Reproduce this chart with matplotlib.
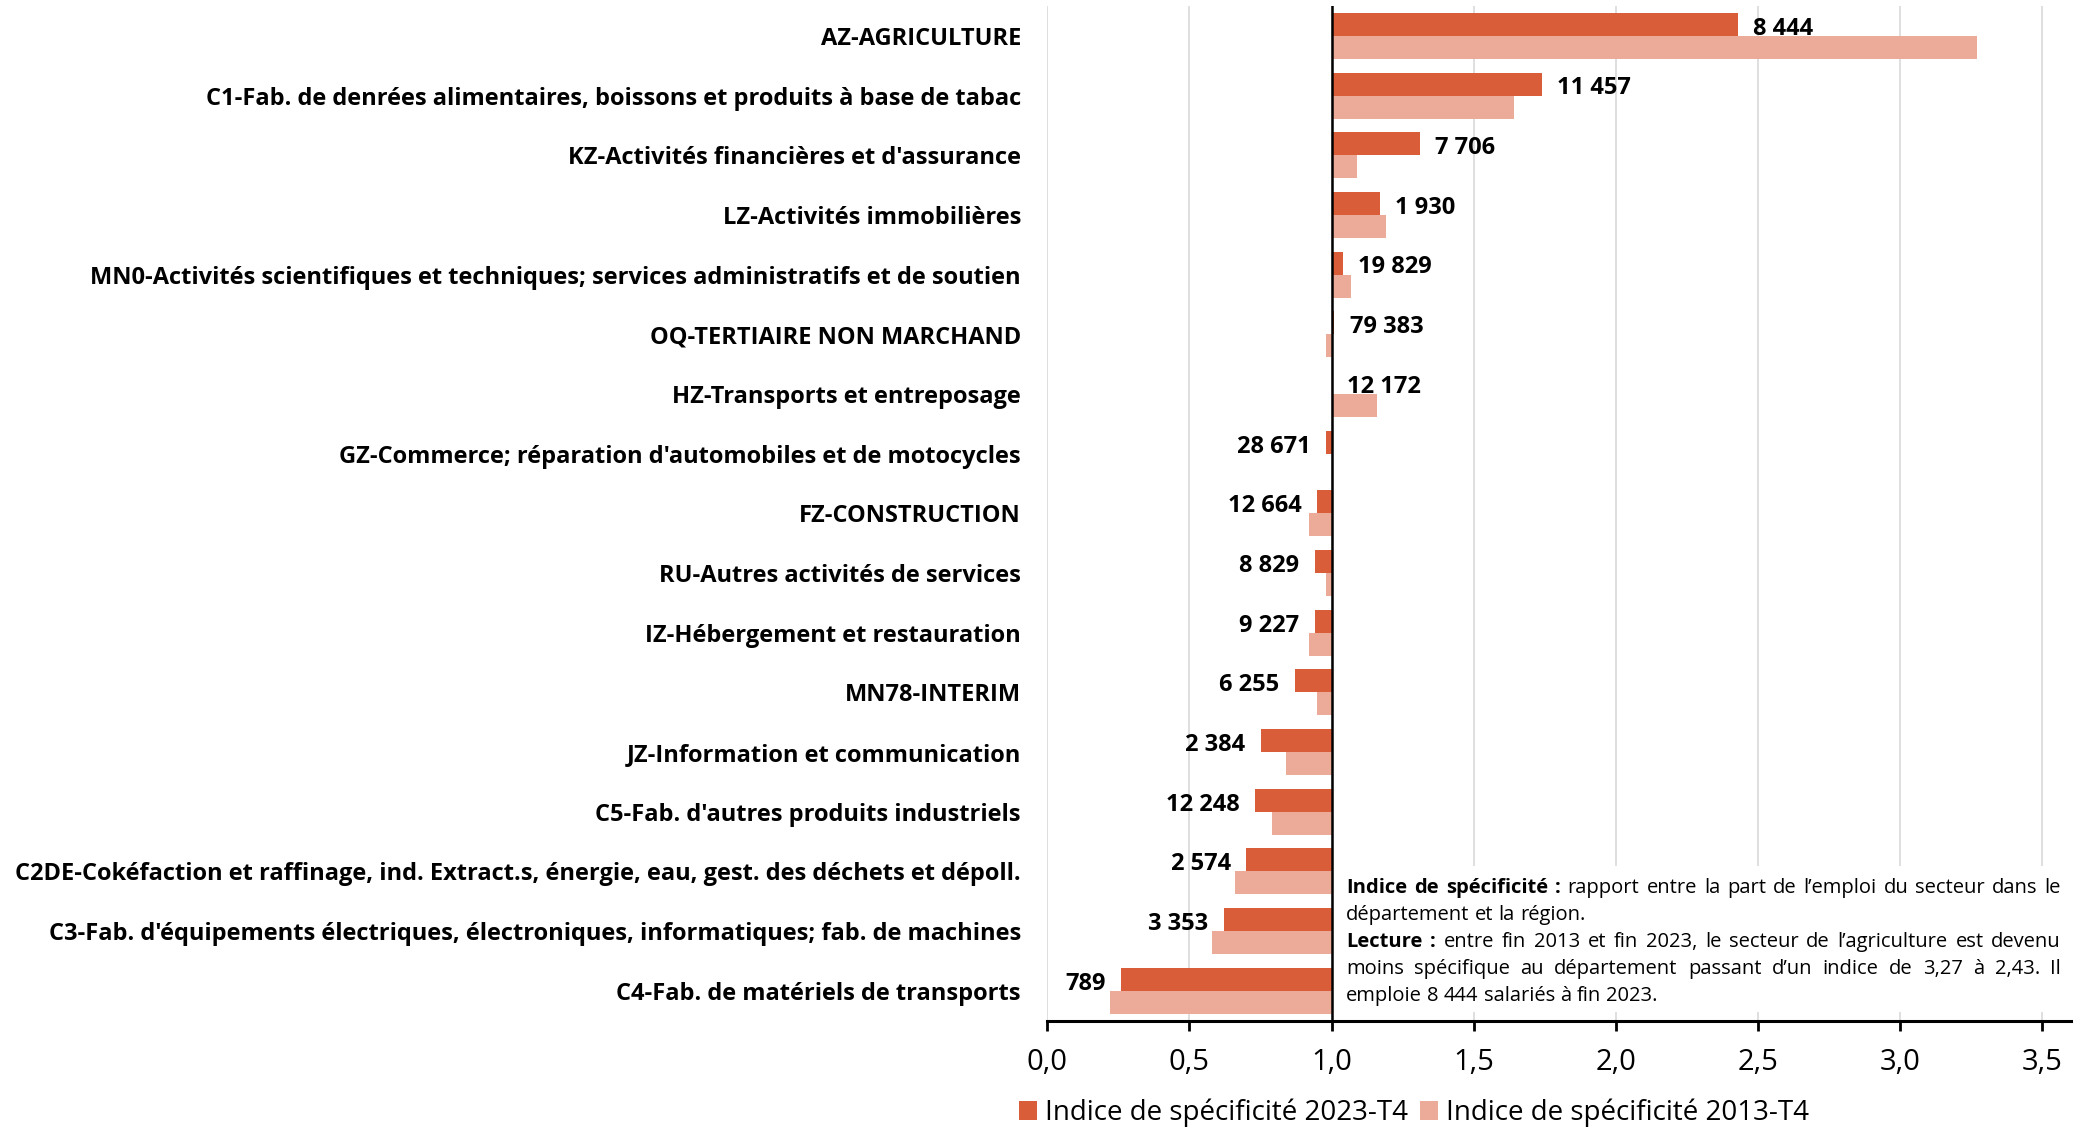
import matplotlib
matplotlib.use("Agg")
import matplotlib.pyplot as plt
import numpy as np
from matplotlib.patches import Rectangle

plt.rcParams["font.family"] = ["Open Sans", "DejaVu Sans"]

secteurs = [
    "AZ-AGRICULTURE",
    "C1-Fab. de denrées alimentaires, boissons et produits à base de tabac",
    "KZ-Activités financières et d'assurance",
    "LZ-Activités immobilières",
    "MN0-Activités scientifiques et techniques; services administratifs et de soutien",
    "OQ-TERTIAIRE NON MARCHAND",
    "HZ-Transports et entreposage",
    "GZ-Commerce; réparation d'automobiles et de motocycles",
    "FZ-CONSTRUCTION",
    "RU-Autres activités de services",
    "IZ-Hébergement et restauration",
    "MN78-INTERIM",
    "JZ-Information et communication",
    "C5-Fab. d'autres produits industriels",
    "C2DE-Cokéfaction et raffinage, ind. Extract.s, énergie, eau, gest. des déchets et dépoll.",
    "C3-Fab. d'équipements électriques, électroniques, informatiques; fab. de machines",
    "C4-Fab. de matériels de transports",
]
indice_2023 = [2.43, 1.74, 1.31, 1.17, 1.04, 1.01, 1.00, 0.98, 0.95, 0.94,
               0.94, 0.87, 0.75, 0.73, 0.70, 0.62, 0.26]
indice_2013 = [3.27, 1.64, 1.09, 1.19, 1.07, 0.98, 1.16, 1.00, 0.92, 0.98,
               0.92, 0.95, 0.84, 0.79, 0.66, 0.58, 0.22]
effectifs_2023 = [8444, 11457, 7706, 1930, 19829, 79383, 12172, 28671, 12664,
                  8829, 9227, 6255, 2384, 12248, 2574, 3353, 789]

C_2023 = "#D95D38"
C_2013 = "#EBAB98"
W, H = 2085, 1129

fig = plt.figure(figsize=(W / 100, H / 100), dpi=100)
ax = fig.add_axes([1047.3 / W, 1 - 1020.7 / H, 1023.4 / W, 1014.7 / H])

y = np.arange(len(secteurs))
h = 0.385
v23 = np.array(indice_2023)
v13 = np.array(indice_2013)
b23 = ax.barh(y - h / 2, v23 - 1, left=1, height=h, color=C_2023, zorder=2)
b13 = ax.barh(y + h / 2, v13 - 1, left=1, height=h, color=C_2013, zorder=2)

# effectifs salariés à côté de la barre 2023
for yi, v, n in zip(y, v23, effectifs_2023):
    txt = f"{n:,}".replace(",", " ")
    if v >= 1:
        ax.annotate(txt, (v, yi - h / 2), xytext=(11, -1), textcoords="offset points",
                    ha="left", va="center_baseline", fontsize=17, fontweight="bold", zorder=5)
    else:
        ax.annotate(txt, (v, yi - h / 2), xytext=(-11, -1), textcoords="offset points",
                    ha="right", va="center_baseline", fontsize=17, fontweight="bold", zorder=5)

ax.axvline(1, color="black", lw=1.8, zorder=4)

ax.set_xlim(0, 3.6)
ax.set_ylim(len(secteurs) - 0.5, -0.5)
ax.set_xticks(np.arange(0, 3.51, 0.5))
ax.set_xticklabels([f"{t:.1f}".replace(".", ",") for t in np.arange(0, 3.51, 0.5)], fontsize=21)
ax.set_yticks(y)
ax.set_yticklabels(secteurs, fontsize=17, fontweight="bold")
ax.tick_params(axis="y", length=0, pad=19)
ax.tick_params(axis="x", length=7, width=2, pad=13, color="black")
ax.grid(axis="x", color="#D9D9D9", lw=1.2)
ax.set_axisbelow(True)
for s in ["top", "right", "left"]:
    ax.spines[s].set_visible(False)
ax.spines["bottom"].set_linewidth(2.2)

# encadré de lecture
ax.add_patch(Rectangle((1338 / W, 1 - 1012 / H), (2078 - 1338) / W, (1012 - 866) / H,
                       transform=fig.transFigure, facecolor="white", edgecolor="none",
                       zorder=3, clip_on=False))

note_lines = [
    ([("Indice de spécificité :", True),
      ("rapport entre la part de l’emploi du secteur dans le", False)], True),
    ([("département et la région.", False)], False),
    ([("Lecture :", True),
      ("entre fin 2013 et fin 2023, le secteur de l’agriculture est devenu", False)], True),
    ([("moins spécifique au département passant d’un indice de 3,27 à 2,43. Il", False)], True),
    ([("emploie 8 444 salariés à fin 2023.", False)], False),
]
x_left, x_right = 1346, 2061
base_y = 893
line_h = 26.9
fs_note = 14.5

fig.canvas.draw()
renderer = fig.canvas.get_renderer()
space_px = fs_note * 100 / 72 * 0.26
for i, (parts, justify) in enumerate(note_lines):
    words = []
    for s, bold in parts:
        words += [(w, bold) for w in s.split()]
    arts = [fig.text(0, 0, w, fontsize=fs_note, fontweight="bold" if b else "normal",
                     ha="left", va="baseline") for w, b in words]
    widths = [a.get_window_extent(renderer).width for a in arts]
    if justify and len(words) > 1:
        gap = max((x_right - x_left - sum(widths)) / (len(words) - 1), 2)
    else:
        gap = space_px
    x = x_left
    yb = 1 - (base_y + i * line_h) / H
    for a, w in zip(arts, widths):
        a.set_position((x / W, yb))
        x += w + gap

fig.legend([b23, b13], ["Indice de spécificité 2023-T4", "Indice de spécificité 2013-T4"],
           loc="center", bbox_to_anchor=(1414 / W, 1 - 1113 / H), ncol=2, frameon=False,
           fontsize=20, handlelength=0.65, handleheight=0.65, handletextpad=0.3,
           columnspacing=0.4, borderpad=0)

fig.savefig("out.png", dpi=100)
